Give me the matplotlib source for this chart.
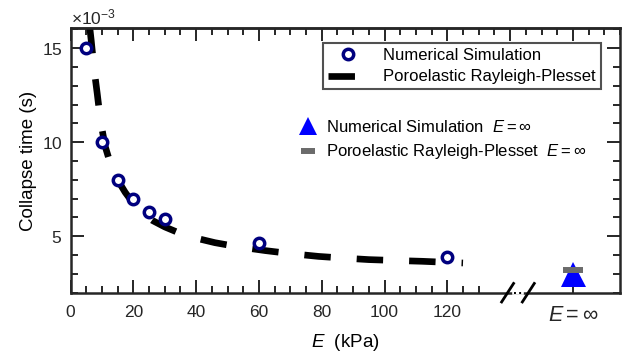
import numpy as np
import matplotlib as mpl
mpl.use('Agg')
import matplotlib.pyplot as plt
from matplotlib.ticker import ScalarFormatter
from matplotlib.lines import Line2D
import matplotlib.transforms as mtransforms

# ----------------------------------------------------------------------------
# data

E_sim = [5, 10, 15, 20, 25, 30, 60, 120]          # kPa
t_sim = [15.0, 10.0, 8.0, 7.0, 6.3, 5.9, 4.65, 3.9]  # ms

E_model = [5.6, 6.6, 7.5, 8.5, 9.5, 11, 13, 15, 17.4, 20, 23, 26, 30, 35, 40,
           46, 53, 62, 70, 79, 87, 95, 104, 112, 125]
t_model = [16.9, 15.4, 13.9, 12.6, 11.2, 9.8, 8.7, 8.0, 7.34, 6.75, 6.2, 5.85,
           5.5, 5.15, 4.9, 4.66, 4.45, 4.24, 4.08, 3.93, 3.84, 3.76, 3.71,
           3.67, 3.58]

E_inf = 160          # where E = infinity sits on the axis
t_sim_inf = 3.0
t_model_inf = 3.2

xticks = [0, 20, 40, 60, 80, 100, 120, E_inf]
xticklabels = ['0', '20', '40', '60', '80', '100', '120', r'$E=\infty$']
break_lo, break_hi = 139.2, 145.8

# ----------------------------------------------------------------------------
# style

rc = {
   'font.family': ['Liberation Sans', 'DejaVu Sans'],
   'mathtext.fontset': 'custom',
   'mathtext.rm': 'Liberation Sans',
   'mathtext.it': 'Liberation Sans:italic',
   'axes.linewidth': 1.8,
   'axes.edgecolor': '#262626',
   'xtick.color': '#262626',
   'ytick.color': '#262626',
   'xtick.labelsize': 12.5,
   'ytick.labelsize': 12.5,
}
mpl.rcParams.update(rc)

fig = plt.figure(figsize=(6.29, 3.57), dpi=100)
ax = fig.add_axes([0.1121, 0.1801, 0.8736, 0.7401])

ms = 1e-3
lw = 4.8
dash = (3.97, 3.9)
ln_model, = ax.plot(E_model[::-1], np.array(t_model[::-1]) * ms, c='k',
                    lw=lw, dash_capstyle='butt',
                    linestyle=(3.75, dash), zorder=2)
ln_sim, = ax.plot(E_sim, np.array(t_sim) * ms, 'o', mfc='white', mec='#00007f',
                  ms=7.5, mew=2.5, zorder=3, label='Numerical Simulation')
ln_tinf, = ax.plot([E_inf], [t_sim_inf * ms], '^', c='#0000ff', ms=18,
                   mew=0, zorder=3,
                   label=r'Numerical Simulation  $E=\infty$')
ln_minf, = ax.plot([E_inf], [t_model_inf * ms], '_', c='#6b6b6b', ms=14.5,
                   mew=4.3, zorder=4,
                   label=r'Poroelastic Rayleigh-Plesset  $E=\infty$')
# legend proxy for the dashed curve (dash starts at the handle's left end)
model_proxy = Line2D([], [], c='k', lw=lw, dash_capstyle='butt',
                     linestyle=(0, dash), label='Poroelastic Rayleigh-Plesset')

ax.set_xlim(0, 175)
ax.set_ylim(2 * ms, 16.05 * ms)

ax.set_xticks(xticks)
ax.set_xticklabels(xticklabels)
ax.get_xticklabels()[-1].set_fontsize(15.5)
ax.set_xticks(np.arange(5, 131, 5), minor=True)
ax.set_yticks(np.array([5, 10, 15]) * ms)
ax.set_yticks(np.arange(2, 17) * ms, minor=True)
fmt = ScalarFormatter(useMathText=True)
fmt.set_powerlimits((-3, -3))
ax.yaxis.set_major_formatter(fmt)
ax.yaxis.get_offset_text().set_fontsize(12.5)

ax.tick_params(which='both', direction='in', width=1.4, top=False, right=True)
ax.tick_params(which='major', length=9.5)
ax.tick_params(which='minor', length=5)
ax.tick_params(axis='x', which='major', pad=9)
ax.tick_params(axis='y', which='major', pad=6)

top = ax.secondary_xaxis('top')
top.set_xticks(np.arange(0, 161, 20))
top.set_xticks(np.arange(0, 176, 5), minor=True)
top.tick_params(which='both', direction='in', width=1.4, labeltop=False)
top.tick_params(which='major', length=9.5)
top.tick_params(which='minor', length=5)
top.spines['top'].set_linewidth(1.8)

ax.set_xlabel(r'$E$  (kPa)', fontsize=13.5, labelpad=4)
ax.set_ylabel('Collapse time (s)', fontsize=13.5, labelpad=3)

# axis break marks
tr = mtransforms.blended_transform_factory(ax.transData, ax.transAxes)
ax.plot([break_lo + 1.9, break_hi - 1.9], [0, 0], '-', c='white', lw=2.6,
        transform=tr, clip_on=False, zorder=5)
ax.plot([break_lo + 1.9, break_hi - 1.9], [0, 0], ':', c='k', lw=1.4,
        transform=tr, clip_on=False, zorder=6)
for xb in (break_lo, break_hi):
   ax.plot([xb - 1.9, xb + 1.9], [-0.035, 0.035], '-', c='k', lw=2.0,
           transform=tr, clip_on=False, zorder=6)

leg = ax.legend(handles=[ln_sim, model_proxy], loc='upper left',
                bbox_to_anchor=(0.4586, 0.946), fontsize=12,
                fancybox=False, handlelength=2.5, handletextpad=0.85,
                borderpad=0.3, labelspacing=0.4, borderaxespad=0, numpoints=1)
leg.get_frame().set_linewidth(1.5)
leg.get_frame().set_edgecolor('#262626')
ax.add_artist(leg)

leg2 = ax.legend(handles=[ln_tinf, ln_minf], loc='upper left',
                 bbox_to_anchor=(0.417, 0.658), fontsize=12, frameon=False,
                 handlelength=1.0, handletextpad=0.6, markerscale=0.7,
                 borderpad=0, labelspacing=0.45, borderaxespad=0)

fig.savefig('out.png', dpi=100)
